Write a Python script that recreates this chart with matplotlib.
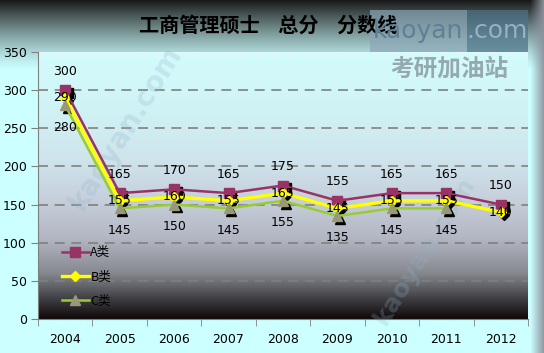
import numpy as np
import matplotlib
matplotlib.use("Agg")
import matplotlib.pyplot as plt
import matplotlib.transforms as mtransforms
from matplotlib.colors import LinearSegmentedColormap
from matplotlib.patches import Rectangle

plt.rcParams['font.family'] = ['Noto Sans CJK SC', 'DejaVu Sans']

# data
years = ["2004", "2005", "2006", "2007", "2008", "2009", "2010", "2011", "2012"]
a_scores = [300, 165, 170, 165, 175, 155, 165, 165, 150]
b_scores = [290, 155, 160, 155, 165, 145, 155, 155, 140]
c_scores = [280, 145, 150, 145, 155, 135, 145, 145, np.nan]
series_names = ["A类", "B类", "C类"]
title = "工商管理硕士    总分    分数线"

W, H = 544, 353
fig = plt.figure(figsize=(W / 100, H / 100), dpi=100)

# outer background: cyan with dark top band and grey right edge
bg = np.ones((H, W, 3)) * np.array([0.80, 1.0, 1.0])
rows = np.arange(H)
top = np.clip(1 - rows / 70.0, 0, 1) ** 1.3
top_col = np.array([0.10, 0.10, 0.10])
for i in range(H):
    if top[i] > 0:
        bg[i, :, :] = bg[i, :, :] * (1 - top[i]) + top_col * top[i]
cols = np.arange(W)
right = np.clip((cols - 530) / 14.0, 0, 1)
right_col = np.array([0.55, 0.58, 0.62])
for j in range(W):
    if right[j] > 0:
        bg[:, j, :] = bg[:, j, :] * (1 - right[j]) + right_col * right[j]
bg_ax = fig.add_axes([0, 0, 1, 1], zorder=-10)
bg_ax.imshow(bg, aspect="auto", extent=[0, 1, 0, 1])
bg_ax.axis("off")

ax = fig.add_axes([38 / W, 1 - 319 / H, 490 / W, 267 / H])
ax.set_facecolor("none")

x = np.arange(len(years))
ax.set_xlim(-0.5, len(years) - 0.5)
ax.set_ylim(0, 350)

# plot area gradient
cmap = LinearSegmentedColormap.from_list("pa", [
    (0.0, "#100808"), (0.07, "#3c3c40"), (0.17, "#86888f"),
    (0.3, "#b2b6c2"), (0.45, "#c6d0dc"), (0.6, "#cfe4ec"), (0.8, "#d0f4f6"), (1.0, "#d4fcfc")])
grad = np.linspace(0, 1, 256).reshape(-1, 1)
ax.imshow(grad, cmap=cmap, aspect="auto", origin="lower",
          extent=[-0.5, len(years) - 0.5, 0, 350], zorder=0)

for yv in range(50, 351, 50):
    color = "#f4f4f4" if yv == 350 else "#808080"
    ax.axhline(yv, color=color, lw=1.2, ls=(0, (6, 4)), zorder=1)

# rotated watermarks
ax.text(1.1, 250, "kaoyan.com", ha="center", va="center", fontsize=20,
        rotation=58, color="#8fb2c8", alpha=0.25, fontweight="bold",
        family="DejaVu Sans", zorder=1)
ax.text(6.6, 90, "kaoyan.com", ha="center", va="center", fontsize=18,
        rotation=58, color="#8fb2c8", alpha=0.25, fontweight="bold",
        family="DejaVu Sans", zorder=1)

styles = [
    dict(color="#993366", marker="s", mfc="#993366", mec="#993366", ms=7, lw=1.8),
    dict(color="#ffff00", marker="D", mfc="#ffff00", mec="#ffff00", ms=5, lw=2.4),
    dict(color="#99cc33", marker="^", mfc="#999977", mec="#999977", ms=7, lw=1.8),
]
data = [a_scores, b_scores, c_scores]
shadow = mtransforms.offset_copy(ax.transData, fig=fig, x=2, y=-2, units="points")
for vals, st, name in zip(data, styles, series_names):
    ax.plot(x, vals, ls="none", marker=st["marker"], ms=st["ms"], color="black",
            transform=shadow, zorder=2)
for vals, st, name in zip(data, styles, series_names):
    ax.plot(x, vals, label=name, zorder=3, **st)

for xi, v in zip(x, a_scores):
    ax.annotate(str(v), (xi, v), xytext=(0, 9), textcoords="offset points",
                ha="center", va="bottom", fontsize=9, family="DejaVu Sans", zorder=5)
for xi, v in zip(x, b_scores):
    ax.annotate(str(v), (xi, v), xytext=(0, 0), textcoords="offset points",
                ha="center", va="center", fontsize=9, family="DejaVu Sans", zorder=5)
for xi, v in zip(x, c_scores):
    if np.isnan(v):
        continue
    ax.annotate(str(int(v)), (xi, v), xytext=(0, -11), textcoords="offset points",
                ha="center", va="top", fontsize=9, family="DejaVu Sans", zorder=5)

ax.set_xticks(x)
ax.set_xticklabels(years)
ax.set_xticks(np.arange(-0.5, len(years)), minor=True)
ax.tick_params(axis="x", which="major", length=0, pad=10, labelsize=9)
ax.tick_params(axis="x", which="minor", length=5, color="#808080", direction="out")
ax.set_yticks(range(0, 351, 50))
ax.tick_params(axis="y", length=5, color="#808080", labelsize=9, pad=3)
for lab in ax.get_xticklabels() + ax.get_yticklabels():
    lab.set_family("DejaVu Sans")
for s in ["top", "right"]:
    ax.spines[s].set_visible(False)
for s in ["left", "bottom"]:
    ax.spines[s].set_color("#808080")

ax.legend(loc="lower left", bbox_to_anchor=(0.025, 0.0), frameon=False,
          fontsize=9, handlelength=2.2, handletextpad=0.1, labelspacing=0.9)

fig.text(268 / W, 1 - 25 / H, title, ha="center", va="center", fontsize=14.5, fontweight="bold")

# top-right logo watermark
fig.patches.append(Rectangle((370 / W, 1 - 52 / H), 97 / W, 42 / H, transform=fig.transFigure,
                             fc="#8aa6b6", ec="none", alpha=0.7, zorder=2))
fig.patches.append(Rectangle((467 / W, 1 - 52 / H), 61 / W, 42 / H, transform=fig.transFigure,
                             fc="#4c7288", ec="none", alpha=0.7, zorder=2))
fig.text(418 / W, 1 - 31 / H, "kaoyan", ha="center", va="center", fontsize=18,
         color="#5f7f94", family="DejaVu Sans", zorder=3)
fig.text(497 / W, 1 - 31 / H, ".com", ha="center", va="center", fontsize=18,
         color="#98b0c0", family="DejaVu Sans", zorder=3)
fig.text(449 / W, 1 - 68 / H, "考研加油站", ha="center", va="center", fontsize=17,
         fontweight="bold", color="#8ea2a8", alpha=0.9)

fig.savefig("out.png", dpi=100)
